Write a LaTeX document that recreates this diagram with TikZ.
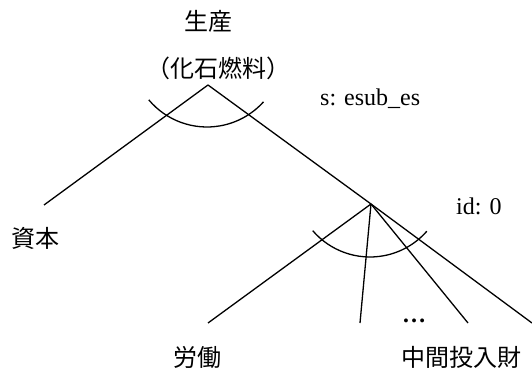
\documentclass[tikz,border=0pt]{standalone}
\usepackage{fontspec}
\setmainfont{Liberation Serif}
\newfontfamily\cjk{Noto Sans CJK JP}
\begin{document}
\begin{tikzpicture}[x=1pt,y=1pt,
  lbl/.style={inner sep=0pt,font=\fontsize{24}{28}\selectfont},
  jlbl/.style={lbl,font=\fontsize{24}{28}\selectfont\cjk},
  branch/.style={line width=1.3pt,black}]
\useasboundingbox (0,0) rectangle (532,372);
% labels
\node[jlbl,anchor=base] (prod) at (208,341) {生産};
\node[jlbl,anchor=base] (fossil) at (218,294) {（化石燃料）};
\node[lbl,anchor=base west] (sub) at (320,266) {s: esub\_es};
\node[lbl,anchor=base west] (id) at (456,157) {id: 0};
\node[jlbl,anchor=base] (cap) at (35,124) {資本};
\node[jlbl,anchor=base] (lab) at (197,6) {労働};
\node[jlbl,anchor=base] (inter) at (461,6) {中間投入財};
\node[lbl,anchor=base] (dots) at (414,49.5) {\textbf{…}};
% vertices and ends
\coordinate (A) at (208,287);
\coordinate (capend) at (44,167);
\coordinate (B) at (371,168);
\coordinate (e1) at (208,49);
\coordinate (e2) at (360,49);
\coordinate (e3) at (468,49);
\coordinate (e4) at (532,49);
\coordinate (ctop) at (207,321);
\coordinate (cbot) at (370,190.5);
% branches
\draw[branch] (A) -- (capend);
\draw[branch] (A) -- (B);
\draw[branch] (B) -- (e1);
\draw[branch] (B) -- (e2);
\draw[branch] (B) -- (e3);
\draw[branch] (B) -- (e4);
% arcs
\draw[branch] ([shift={(220:76)}]ctop) arc[start angle=220,end angle=318,radius=76];
\draw[branch] ([shift={(220.6:75.5)}]cbot) arc[start angle=220.6,end angle=318.8,radius=75.5];
\end{tikzpicture}
\end{document}
